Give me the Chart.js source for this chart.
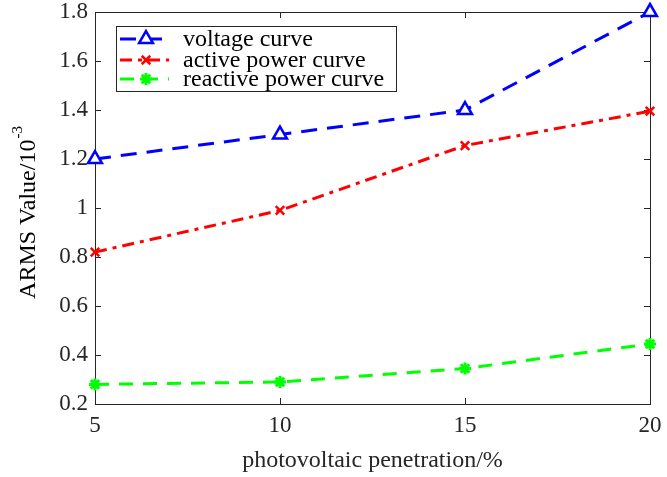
<!DOCTYPE html>
<html>
<head>
<meta charset="utf-8">
<script src="https://cdn.jsdelivr.net/npm/chart.js@4.4.1/dist/chart.umd.min.js"></script>
<style>
  html, body { margin: 0; padding: 0; background: #fff; }
</style>
</head>
<body>
<canvas id="armsChart" width="667" height="477"></canvas>
<script>
const penetration = [5, 10, 15, 20];
const voltageCurve = [1.2, 1.3, 1.4, 1.8];
const activePowerCurve = [0.82, 0.99, 1.255, 1.395];
const reactivePowerCurve = [0.28, 0.29, 0.345, 0.445];
const xTickValues = [5, 10, 15, 20];
const yTickValues = [0.2, 0.4, 0.6, 0.8, 1.0, 1.2, 1.4, 1.6, 1.8];
const seriesNames = ["voltage curve", "active power curve", "reactive power curve"];

const SERIF = "'Liberation Serif', 'Times New Roman', serif";

function pts(ys) {
  return penetration.map((x, i) => ({ x: x, y: ys[i] }));
}

// box + inward ticks, matlab style
const axesBox = {
  id: "axesBox",
  beforeDatasetsDraw(chart) {
    const { ctx, chartArea: a, scales } = chart;
    ctx.save();
    ctx.strokeStyle = "#262626";
    ctx.lineWidth = 1;
    ctx.strokeRect(a.left + 0.5, a.top + 0.5, a.right - a.left, a.bottom - a.top);
    ctx.beginPath();
    xTickValues.forEach((v) => {
      const px = Math.round(scales.x.getPixelForValue(v)) + 0.5;
      ctx.moveTo(px, a.bottom); ctx.lineTo(px, a.bottom - 6);
      ctx.moveTo(px, a.top); ctx.lineTo(px, a.top + 6);
    });
    yTickValues.forEach((v) => {
      const py = Math.round(scales.y.getPixelForValue(v)) + 0.5;
      ctx.moveTo(a.left, py); ctx.lineTo(a.left + 6, py);
      ctx.moveTo(a.right, py); ctx.lineTo(a.right - 6, py);
    });
    ctx.stroke();
    ctx.restore();
  },
  afterDraw(chart) {
    const { ctx, chartArea: a } = chart;
    ctx.save();

    // y axis title with superscript
    const midY = (a.top + a.bottom) / 2 + 5;
    ctx.translate(29, midY);
    ctx.rotate(-Math.PI / 2);
    ctx.fillStyle = "#000";
    ctx.textBaseline = "middle";
    const main = "ARMS Value/10";
    ctx.font = "24px " + SERIF;
    const w1 = ctx.measureText(main).width;
    ctx.font = "15px " + SERIF;
    const w2 = ctx.measureText("-3").width;
    const start = -(w1 + w2) / 2;
    ctx.font = "24px " + SERIF;
    ctx.textAlign = "left";
    ctx.fillText(main, start, 0);
    ctx.font = "15px " + SERIF;
    ctx.fillText("-3", start + w1 + 1, -11);
    ctx.restore();

    // legend
    ctx.save();
    const lx = 116, ly = 26, lw = 280, lh = 65;
    ctx.fillStyle = "#fff";
    ctx.fillRect(lx, ly, lw, lh);
    ctx.strokeStyle = "#262626";
    ctx.lineWidth = 1;
    ctx.strokeRect(lx + 0.5, ly + 0.5, lw, lh);
    const rows = [39, 60, 79];
    chart.data.datasets.forEach((ds, i) => {
      const y = rows[i];
      ctx.strokeStyle = ds.borderColor;
      ctx.lineWidth = ds.borderWidth;
      ctx.setLineDash(ds.borderDash || []);
      ctx.beginPath();
      ctx.moveTo(120, y);
      ctx.lineTo(169, y);
      ctx.stroke();
      ctx.setLineDash([]);
      ctx.fillStyle = ds.pointBackgroundColor;
      ctx.strokeStyle = ds.borderColor;
      ctx.lineWidth = ds.pointBorderWidth;
      Chart.helpers.drawPoint(ctx, {
        pointStyle: ds.pointStyle,
        radius: ds.pointRadius,
        rotation: 0,
        borderWidth: ds.pointBorderWidth
      }, 146, y);
      ctx.fillStyle = "#000";
      ctx.font = "24px " + SERIF;
      ctx.textAlign = "left";
      ctx.textBaseline = "middle";
      ctx.fillText(ds.label, 183, y + 1);
    });
    ctx.restore();
  }
};

new Chart(document.getElementById("armsChart"), {
  type: "line",
  data: {
    datasets: [
      {
        label: seriesNames[0],
        data: pts(voltageCurve),
        borderColor: "#0000ff",
        backgroundColor: "#fff",
        pointBackgroundColor: "#fff",
        borderWidth: 3,
        borderDash: [16, 10],
        pointStyle: "triangle",
        pointRadius: 8,
        pointBorderWidth: 2.5,
        clip: false
      },
      {
        label: seriesNames[1],
        data: pts(activePowerCurve),
        borderColor: "#ff0000",
        backgroundColor: "#ff0000",
        pointBackgroundColor: "#ff0000",
        borderWidth: 3,
        borderDash: [12, 6, 4, 6],
        pointStyle: "crossRot",
        pointRadius: 6,
        pointBorderWidth: 2.5,
        clip: false
      },
      {
        label: seriesNames[2],
        data: pts(reactivePowerCurve),
        borderColor: "#00ff00",
        backgroundColor: "#00ff00",
        pointBackgroundColor: "#00ff00",
        borderWidth: 3,
        borderDash: [14, 10],
        pointStyle: "star",
        pointRadius: 6,
        pointBorderWidth: 3,
        clip: false
      }
    ]
  },
  options: {
    responsive: false,
    animation: false,
    layout: { padding: { top: 12, right: 17, left: 0, bottom: 0 } },
    plugins: {
      legend: { display: false },
      tooltip: { enabled: false }
    },
    scales: {
      x: {
        type: "linear",
        min: 5,
        max: 20,
        afterBuildTicks: (s) => { s.ticks = xTickValues.map((v) => ({ value: v })); },
        afterFit: (s) => {
          s.height = 73;
          s.paddingLeft = 0;
          s.paddingRight = 0;
        },
        grid: { display: false, drawTicks: false },
        border: { display: false },
        ticks: {
          color: "#262626",
          padding: 8,
          font: { family: SERIF, size: 23 }
        },
        title: {
          display: true,
          text: "photovoltaic penetration/%",
          color: "#262626",
          padding: { top: 6, bottom: 2 },
          font: { family: SERIF, size: 24 }
        }
      },
      y: {
        min: 0.2,
        max: 1.8,
        afterBuildTicks: (s) => { s.ticks = yTickValues.map((v) => ({ value: v })); },
        afterFit: (s) => {
          s.width = 95;
          s.paddingTop = 0;
          s.paddingBottom = 0;
        },
        grid: { display: false, drawTicks: false },
        border: { display: false },
        ticks: {
          color: "#262626",
          padding: 7,
          font: { family: SERIF, size: 23 },
          callback: (v) => String(Number(v.toFixed(1)))
        }
      }
    }
  },
  plugins: [axesBox]
});
</script>
</body>
</html>
